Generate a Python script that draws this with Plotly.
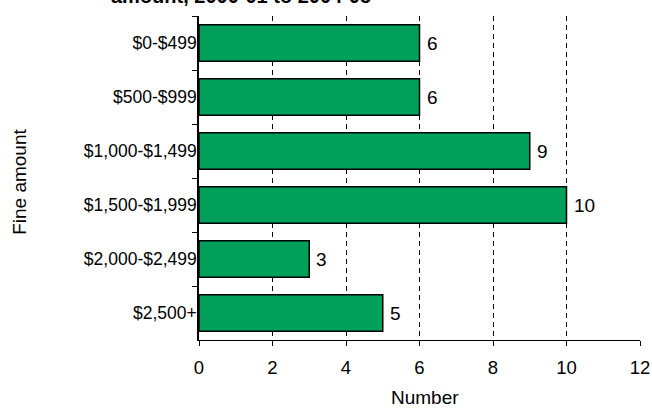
import plotly.graph_objects as go

# Fine amount bands and number of cases in each
categories = ["$0-$499", "$500-$999", "$1,000-$1,499", "$1,500-$1,999",
              "$2,000-$2,499", "$2,500+"]
counts = [6, 6, 9, 10, 3, 5]
x_ticks = [0, 2, 4, 6, 8, 10, 12]

title_text = "amount, 2000-01 to 2004-05"
x_title = "Number"
y_title = "Fine amount"

FONT = "Arial, Liberation Sans, sans-serif"

fig = go.Figure(
    go.Bar(
        x=counts,
        y=categories,
        orientation="h",
        marker=dict(color="#00A05A", line=dict(color="black", width=1.5)),
        width=0.68,
        hoverinfo="x+y",
    )
)

# value labels just past the end of each bar
value_labels = [
    dict(
        x=v, y=c, xref="x", yref="y",
        text=str(v), showarrow=False,
        xanchor="left", yanchor="middle", xshift=5,
        font=dict(size=19, family=FONT, color="black"),
    )
    for c, v in zip(categories, counts)
]

fig.update_layout(
    width=652,
    height=408,
    margin=dict(l=199, r=12, t=16, b=68, autoexpand=False),
    plot_bgcolor="white",
    paper_bgcolor="white",
    font=dict(family=FONT, size=18, color="black"),
    showlegend=False,
    annotations=value_labels + [
        dict(
            text="<b>" + title_text + "</b>",
            xref="paper", yref="paper",
            x=-0.203, y=1.0,
            xanchor="left", yanchor="bottom",
            yshift=7,
            showarrow=False,
            font=dict(size=20, family=FONT, color="black"),
        ),
        dict(
            text=y_title,
            xref="paper", yref="paper",
            x=-0.406, y=0.488,
            xanchor="center", yanchor="middle",
            textangle=-90,
            showarrow=False,
            font=dict(size=19, family=FONT, color="black"),
        ),
        dict(
            text=x_title,
            xref="paper", yref="paper",
            x=0.512, y=-0.178,
            xanchor="center", yanchor="middle",
            showarrow=False,
            font=dict(size=19, family=FONT, color="black"),
        ),
    ],
)

fig.update_xaxes(
    range=[0, 12],
    tickvals=x_ticks,
    ticks="outside",
    ticklen=5,
    tickcolor="black",
    showline=True,
    linecolor="black",
    linewidth=1,
    showgrid=True,
    gridcolor="black",
    gridwidth=1,
    griddash="5px,4px",
    zeroline=False,
    automargin=False,
    tickfont=dict(size=18.5),
    ticklabelstandoff=6,
)

fig.update_yaxes(
    type="category",
    autorange="reversed",
    tickson="boundaries",
    ticks="outside",
    ticklen=5,
    tickcolor="black",
    showline=True,
    linecolor="black",
    linewidth=1.5,
    showgrid=False,
    zeroline=False,
    automargin=False,
    tickfont=dict(size=17.5),
    ticklabelstandoff=-3,
)

fig.write_html("out.html")
